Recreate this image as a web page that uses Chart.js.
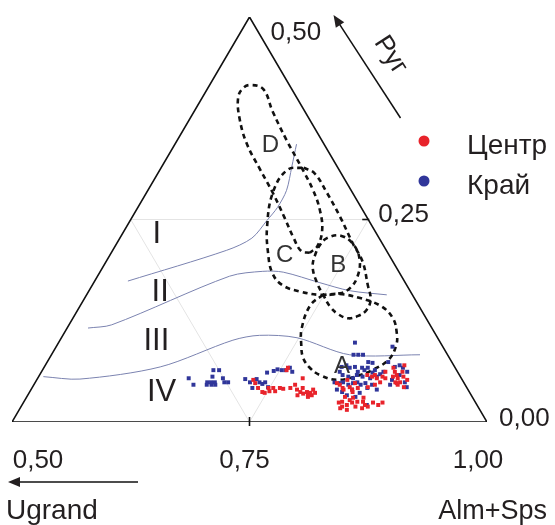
<!DOCTYPE html>
<html><head><meta charset="utf-8">
<script src="https://cdn.jsdelivr.net/npm/chart.js@4/dist/chart.umd.min.js"></script>
<style>html,body{margin:0;padding:0;background:#fff;}canvas{display:block}</style>
</head><body>
<canvas id="c" width="555" height="525"></canvas>
<script>
// ---- data (ternary: [Alm+Sps, Pyr]; Ugrand = 1 - both) ----
const BOTTOM_TICKS = [0.5, 0.75, 1.0];
const BOTTOM_TICK_LABELS = ['0,50', '0,75', '1,00'];
const RIGHT_TICKS = [0.5, 0.25, 0.0];
const RIGHT_TICK_LABELS = ['0,50', '0,25', '0,00'];
const SERIES_NAMES = ['Центр', 'Край'];
const AXIS_NAMES = ['Ugrand', 'Alm+Sps', 'Руг'];

const TRIANGLE = [[0.5,0],[1,0],[0.5,0.5],[0.5,0]];
const GRID_LINES = [
  [[0.5,0.25],[0.75,0.25]],
  [[0.5,0.25],[0.75,0]],
  [[0.75,0.25],[0.75,0]]
];
const BOUNDARY_1 = [[0.535,0.174],[0.620,0.212],[0.639,0.227],[0.644,0.249],[0.647,0.265],[0.646,0.286],[0.637,0.315],[0.628,0.343]];
const BOUNDARY_2 = [[0.522,0.116],[0.545,0.120],[0.639,0.180],[0.671,0.186],[0.693,0.185],[0.738,0.172],[0.775,0.162],[0.816,0.157]];
const BOUNDARY_3 = [[0.505,0.056],[0.545,0.053],[0.622,0.068],[0.682,0.101],[0.707,0.107],[0.748,0.104],[0.814,0.083],[0.888,0.083]];

const FIELD_D = [[0.709,0.209],[0.699,0.211],[0.683,0.227],[0.661,0.252],[0.633,0.283],[0.606,0.311],[0.575,0.344],[0.552,0.375],[0.538,0.400],[0.537,0.412],[0.543,0.416],[0.559,0.411],[0.583,0.383],[0.615,0.348],[0.645,0.317],[0.674,0.286],[0.693,0.262],[0.708,0.237],[0.713,0.217],[0.709,0.209]];
const FIELD_CB = [[0.650,0.314],[0.665,0.307],[0.690,0.283],[0.719,0.253],[0.748,0.221],[0.770,0.198],[0.790,0.169],[0.802,0.151],[0.804,0.138],[0.799,0.131],[0.790,0.128],[0.777,0.133],[0.764,0.142],[0.750,0.156],[0.735,0.172],[0.721,0.191],[0.716,0.206],[0.715,0.219],[0.718,0.227],[0.731,0.230],[0.750,0.219],[0.766,0.200],[0.774,0.179],[0.773,0.165],[0.766,0.159],[0.746,0.157],[0.723,0.161],[0.700,0.169],[0.682,0.184],[0.665,0.209],[0.648,0.241],[0.633,0.283],[0.634,0.311],[0.650,0.314]];
const FIELD_A = [[0.749,0.157],[0.742,0.144],[0.747,0.116],[0.757,0.095],[0.767,0.079],[0.780,0.067],[0.795,0.058],[0.816,0.052],[0.833,0.056],[0.847,0.064],[0.858,0.077],[0.857,0.095],[0.850,0.110],[0.837,0.128],[0.817,0.143],[0.790,0.153],[0.766,0.158],[0.749,0.157]];

const FIELD_NAMES = ['A','B','C','D'];
const FIELD_NAME_POS = [[0.813,0.069],[0.747,0.193],[0.684,0.206],[0.601,0.342]];
const ZONE_NAMES = ['I','II','III','IV'];
const ZONE_NAME_POS = [[0.537,0.231],[0.576,0.160],[0.602,0.100],[0.639,0.037]];

const CENTER_PTS = [
 [0.728,0.052],[0.732,0.048],[0.738,0.042],[0.745,0.037],[0.748,0.036],[0.749,0.042],[0.752,0.038],[0.754,0.042],[0.758,0.038],[0.761,0.042],[0.765,0.041],[0.757,0.064],[0.757,0.067],[0.772,0.042],[0.775,0.046],[0.780,0.040],[0.785,0.037],[0.785,0.042],[0.789,0.035],[0.792,0.037],[0.795,0.033],[0.796,0.036],[0.797,0.040],[0.801,0.036],[0.784,0.033],[0.779,0.054],[0.799,0.033],[0.796,0.031],
 [0.868,0.067],[0.872,0.062],[0.876,0.058],[0.879,0.054],[0.884,0.049],[0.881,0.048],[0.873,0.056],[0.880,0.062],[0.884,0.056],[0.879,0.049],[0.878,0.070],[0.890,0.052],[0.883,0.046],[0.891,0.043],
 [0.845,0.058],[0.851,0.056],[0.857,0.054],[0.862,0.056],[0.866,0.054],[0.863,0.049],[0.853,0.058],[0.862,0.062],
 [0.822,0.046],[0.827,0.042],[0.834,0.043],[0.840,0.037],[0.843,0.042],[0.853,0.043],[0.859,0.046],[0.818,0.048],[0.829,0.040],[0.827,0.052],[0.837,0.048],[0.838,0.040],
 [0.835,0.031],[0.842,0.027],[0.851,0.025],[0.857,0.025],[0.835,0.025],
 [0.832,0.024],[0.838,0.019],[0.842,0.021],[0.846,0.024],[0.852,0.019],[0.861,0.021],[0.865,0.019],[0.868,0.024],[0.875,0.021],[0.878,0.024],[0.860,0.017],[0.845,0.015],[0.837,0.017],[0.855,0.030],[0.844,0.030]
];
const RIM_PTS = [
 [0.659,0.054],[0.668,0.046],[0.681,0.049],[0.685,0.049],[0.689,0.049],[0.682,0.046],[0.687,0.046],[0.691,0.046],[0.680,0.064],[0.686,0.064],[0.683,0.056],[0.695,0.054],[0.699,0.049],[0.703,0.049],
 [0.719,0.053],[0.726,0.049],[0.732,0.042],[0.731,0.053],[0.736,0.049],[0.740,0.047],[0.742,0.049],[0.738,0.061],[0.748,0.043],
 [0.744,0.063],[0.747,0.065],[0.752,0.064],[0.756,0.064],[0.759,0.067],[0.764,0.062],
 [0.812,0.098],[0.854,0.093],[0.818,0.083],[0.823,0.083],[0.828,0.083],[0.838,0.074],[0.843,0.073],
 [0.813,0.068],[0.817,0.070],[0.822,0.067],[0.827,0.068],[0.833,0.062],[0.835,0.067],[0.839,0.064],[0.841,0.067],[0.849,0.061],[0.850,0.064],
 [0.814,0.062],[0.819,0.058],[0.826,0.056],[0.832,0.054],[0.834,0.058],[0.841,0.056],[0.850,0.054],[0.856,0.056],[0.858,0.059],[0.860,0.062],
 [0.815,0.049],[0.821,0.048],[0.824,0.049],[0.831,0.046],[0.835,0.048],[0.839,0.049],[0.844,0.046],[0.848,0.048],[0.856,0.046],
 [0.822,0.040],[0.829,0.037],[0.838,0.040],[0.836,0.033],[0.846,0.031],[0.848,0.036],[0.853,0.042],[0.864,0.040],[0.863,0.021],
 [0.859,0.074],[0.869,0.068],[0.873,0.070],[0.878,0.067],[0.885,0.062],[0.879,0.058],[0.889,0.049],[0.894,0.043],[0.875,0.046],[0.874,0.052]
];

// ---- helpers ----
const toXY = ([a, p]) => ({ x: a + p / 2, y: p });
const FONT = '"Liberation Sans", Arial, sans-serif';
const TXT = '#231f20';
const RED = '#e8232b';
const BLUE = '#30369a';

function lineDs(pts, color, width, dash, tension) {
  return { type: 'scatter', data: pts.map(toXY), showLine: true, borderColor: color, borderWidth: width,
    borderDash: dash || [], tension: tension || 0, pointRadius: 0, fill: false, backgroundColor: 'transparent' };
}
function ptDs(pts, color, order) {
  return { type: 'scatter', data: pts.map(toXY), pointStyle: 'rect', pointRadius: 2.8, borderWidth: 0,
    backgroundColor: color, borderColor: color, order };
}

const datasets = [
  ptDs(CENTER_PTS, RED, 0),
  ptDs(RIM_PTS, BLUE, 1),
  ...GRID_LINES.map(g => Object.assign(lineDs(g, '#e4e4e4', 1), { order: 9 })),
  Object.assign(lineDs(BOUNDARY_1, '#7b83b0', 1, null, 0.3), { order: 5 }),
  Object.assign(lineDs(BOUNDARY_2, '#7b83b0', 1, null, 0.3), { order: 5 }),
  Object.assign(lineDs(BOUNDARY_3, '#7b83b0', 1, null, 0.3), { order: 5 }),
  Object.assign(lineDs(FIELD_D, '#111', 2.6, [5, 4], 0.4), { order: 3 }),
  Object.assign(lineDs(FIELD_CB, '#111', 2.6, [5, 4], 0.4), { order: 3 }),
  Object.assign(lineDs(FIELD_A, '#111', 2.6, [5, 4], 0.4), { order: 3 }),
  Object.assign(lineDs(TRIANGLE, '#111', 1.6), { order: 2 })
];

function arrow(ctx, x1, y1, x2, y2) {
  const ang = Math.atan2(y2 - y1, x2 - x1), L = 12, W = 5;
  ctx.beginPath(); ctx.moveTo(x1, y1);
  ctx.lineTo(x2 - Math.cos(ang) * (L - 2), y2 - Math.sin(ang) * (L - 2)); ctx.stroke();
  ctx.beginPath(); ctx.moveTo(x2, y2);
  ctx.lineTo(x2 - Math.cos(ang) * L - Math.sin(ang) * W, y2 - Math.sin(ang) * L + Math.cos(ang) * W);
  ctx.lineTo(x2 - Math.cos(ang) * L + Math.sin(ang) * W, y2 - Math.sin(ang) * L - Math.cos(ang) * W);
  ctx.closePath(); ctx.fill();
}

const overlay = {
  id: 'overlay',
  afterDatasetsDraw(chart) {
    const ctx = chart.ctx, sx = chart.scales.x, sy = chart.scales.y;
    const P = (a, p) => [sx.getPixelForValue(a + p / 2), sy.getPixelForValue(p)];
    ctx.save();
    ctx.fillStyle = TXT; ctx.strokeStyle = '#111';
    // tick marks
    ctx.lineWidth = 1.6;
    const [bx, by] = P(0.75, 0);
    ctx.beginPath(); ctx.moveTo(bx, by - 5); ctx.lineTo(bx, by + 4); ctx.stroke();
    const [rx, ry] = P(0.75, 0.25);
    ctx.beginPath(); ctx.moveTo(rx - 6, ry); ctx.lineTo(rx + 1, ry); ctx.stroke();

    // bottom tick labels
    ctx.font = '26px ' + FONT; ctx.textBaseline = 'alphabetic'; ctx.textAlign = 'center';
    const bOff = [26, -5, -9];
    BOTTOM_TICKS.forEach((t, i) => {
      const [x, y] = P(t, 0);
      ctx.fillText(BOTTOM_TICK_LABELS[i], x + bOff[i], y + 46);
    });
    // right tick labels
    ctx.textAlign = 'left';
    const rOff = [[21, 23], [10, 2], [12, 4]];
    RIGHT_TICKS.forEach((t, i) => {
      const [x, y] = P(1 - t, t);
      ctx.fillText(RIGHT_TICK_LABELS[i], x + rOff[i][0], y + rOff[i][1]);
    });
    // axis names
    const [lx, ly] = P(0.5, 0), [rvx] = P(1, 0);
    ctx.font = '28px ' + FONT;
    ctx.textAlign = 'left'; ctx.fillText(AXIS_NAMES[0], lx - 6, ly + 97);
    ctx.font = '27px ' + FONT;
    ctx.textAlign = 'right'; ctx.fillText(AXIS_NAMES[1], rvx + 60, ly + 97);
    ctx.lineWidth = 1.5;
    arrow(ctx, lx + 126, ly + 60, lx - 4, ly + 60);
    const [tx, ty] = P(0.5, 0.5);
    arrow(ctx, tx + 151, ty + 101, tx + 84, ty - 2);
    ctx.save();
    ctx.translate(tx + 141, ty + 38);
    ctx.rotate(57 * Math.PI / 180);
    ctx.textAlign = 'center'; ctx.textBaseline = 'middle';
    ctx.font = '26px ' + FONT;
    ctx.fillText(AXIS_NAMES[2], 0, 0);
    ctx.restore();

    // zone labels
    ctx.textAlign = 'center'; ctx.textBaseline = 'middle';
    ctx.font = '31px ' + FONT;
    ZONE_NAMES.forEach((n, i) => { const [x, y] = P(...ZONE_NAME_POS[i]); ctx.fillText(n, x, y); });
    // field labels
    ctx.font = '24px ' + FONT; ctx.fillStyle = '#333';
    FIELD_NAMES.forEach((n, i) => { const [x, y] = P(...FIELD_NAME_POS[i]); ctx.fillText(n, x, y); });

    // legend
    const legX = chart.chartArea.right - 63, legY = chart.chartArea.top + 124;
    [RED, BLUE].forEach((c, i) => {
      ctx.fillStyle = c; ctx.beginPath(); ctx.arc(legX, legY + i * 40, 5.5, 0, Math.PI * 2); ctx.fill();
      ctx.fillStyle = TXT; ctx.font = '28px ' + FONT; ctx.textAlign = 'left'; ctx.textBaseline = 'alphabetic';
      ctx.fillText(SERIES_NAMES[i], legX + 43, legY + i * 40 + 13);
    });
    ctx.restore();
  }
};

new Chart(document.getElementById('c'), {
  type: 'scatter',
  data: { datasets },
  options: {
    responsive: false, animation: false, devicePixelRatio: 1,
    layout: { padding: { left: 12, right: 68, top: 17, bottom: 103 } },
    plugins: { legend: { display: false }, tooltip: { enabled: false } },
    elements: { line: { capBezierPoints: false } },
    scales: {
      x: { type: 'linear', min: 0.5, max: 1.0, display: false },
      y: { type: 'linear', min: 0, max: 0.5, display: false }
    }
  },
  plugins: [overlay]
});
</script>
</body></html>
